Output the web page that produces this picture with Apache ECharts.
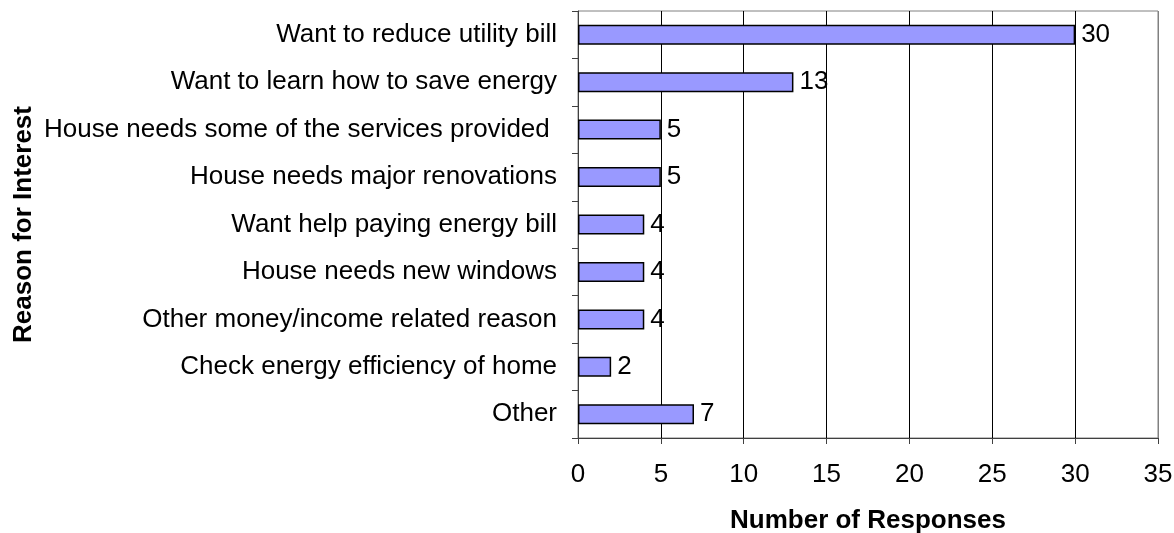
<!DOCTYPE html>
<html>
<head>
<meta charset="utf-8">
<script src="https://cdn.jsdelivr.net/npm/echarts@6/dist/echarts.min.js"></script>
<style>
  html, body { margin: 0; padding: 0; background: #fff; }
  #chart { width: 1174px; height: 533px; }
</style>
</head>
<body>
<div id="chart"></div>
<script>
// reasons, top to bottom as in the picture
const reasons = [
  'Want to reduce utility bill',
  'Want to learn how to save energy',
  'House needs some of the services provided ',
  'House needs major renovations',
  'Want help paying energy bill',
  'House needs new windows',
  'Other money/income related reason',
  'Check energy efficiency of home',
  'Other'
]
const responses = [30, 13, 5, 5, 4, 4, 4, 2, 7]
const xTicks = [0, 5, 10, 15, 20, 25, 30, 35]

const font = 'Liberation Sans, Arial, sans-serif'
const chart = echarts.init(document.getElementById('chart'))

const option = {
  animation: false,
  grid: {
    left: 578,
    top: 11,
    right: 16,
    bottom: 95,
    outerBoundsMode: 'none',
    show: true,
    borderColor: '#808080',
    borderWidth: 1
  },
  xAxis: {
    type: 'value',
    min: xTicks[0],
    max: xTicks[xTicks.length - 1],
    interval: 5,
    name: 'Number of Responses',
    nameLocation: 'middle',
    nameGap: 70,
    nameTextStyle: { fontFamily: font, fontSize: 26, fontWeight: 'bold', color: '#000' },
    axisLine: { show: true, lineStyle: { color: '#404040', width: 1 } },
    axisTick: { show: true, length: 6, lineStyle: { color: '#404040' } },
    axisLabel: { fontFamily: font, fontSize: 26, color: '#000', margin: 24 },
    // last line sits on the grey plot border
    splitLine: {
      show: true,
      lineStyle: { color: ['#000', '#000', '#000', '#000', '#000', '#000', '#000', '#808080'], width: 1 }
    }
  },
  yAxis: {
    type: 'category',
    data: reasons,
    inverse: true,
    name: 'Reason for Interest',
    nameLocation: 'middle',
    nameGap: 541,
    nameRotate: 90,
    nameTextStyle: { fontFamily: font, fontSize: 26, fontWeight: 'bold', color: '#000' },
    axisLine: { show: true, lineStyle: { color: '#404040', width: 1 } },
    axisTick: { show: true, length: 6, lineStyle: { color: '#404040' } },
    axisLabel: { fontFamily: font, fontSize: 26, color: '#000', margin: 21 },
    splitLine: { show: false }
  },
  series: [{
    type: 'bar',
    data: responses,
    barWidth: 20,
    itemStyle: { color: '#9999FF', borderColor: '#000', borderWidth: 1.5 },
    label: {
      show: true,
      position: 'right',
      distance: 6,
      fontFamily: font,
      fontSize: 26,
      color: '#000'
    }
  }]
}
chart.setOption(option)
</script>
</body>
</html>
